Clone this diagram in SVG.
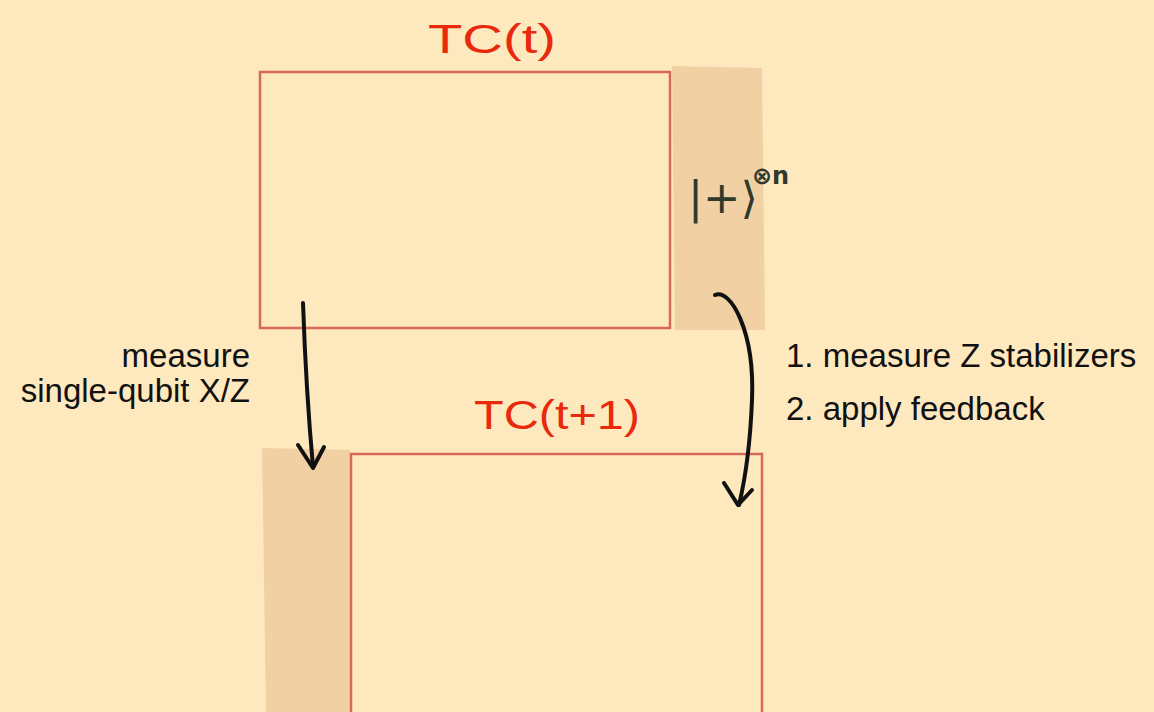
<svg xmlns="http://www.w3.org/2000/svg" width="1154" height="712" viewBox="0 0 1154 712">
<style>
.box{fill:none;stroke:#D6695A;stroke-width:2.5}
.strip{fill:#F1D1A4}
.title{font-family:"Liberation Sans",sans-serif;font-size:40px;fill:#E8290C}
.lbl{font-family:"Liberation Sans",sans-serif;font-size:33px;fill:#111}
.ket{font-family:"DejaVu Sans",sans-serif;fill:#2F3A2C}
.arr{fill:none;stroke:#111;stroke-width:4;stroke-linecap:round;stroke-linejoin:round}
</style>
<rect width="1154" height="712" fill="#FEE8BE"/>
<g id="top-strip"><path class="strip" d="M672,66 L762,68 L765,330 L675,330 Z"/></g>
<g id="bottom-strip"><path class="strip" d="M262,448 L350,450 L350,712 L266,712 Z"/></g>
<g id="tc-t">
<rect class="box" x="260" y="72" width="410" height="256"/>
<text class="title" x="492" y="53" text-anchor="middle" textLength="128" lengthAdjust="spacingAndGlyphs">TC(t)</text>
</g>
<g id="tc-t1">
<rect class="box" x="351" y="454" width="411" height="262"/>
<text class="title" x="557" y="429" text-anchor="middle" textLength="166" lengthAdjust="spacingAndGlyphs">TC(t+1)</text>
</g>
<g id="ket">
<text class="ket" x="688" y="213" font-size="44" textLength="70" lengthAdjust="spacingAndGlyphs">|+⟩</text>
<text class="ket" x="752" y="184" font-size="24" font-weight="bold">⊗n</text>
</g>
<g id="connectors">
<path class="arr" d="M303,303 Q306,390 313,467"/>
<path class="arr" d="M298,445 L313,468 L324,447"/>
<path class="arr" d="M715,295 C730,288 755,330 752,400 C750,450 745,480 739,505"/>
<path class="arr" d="M724,483 L738,505 L752,490"/>
</g>
<g id="labels">
<text class="lbl" x="250" y="367" text-anchor="end">measure</text>
<text class="lbl" x="250" y="402" text-anchor="end">single-qubit X/Z</text>
<text class="lbl" x="786" y="367">1. measure Z stabilizers</text>
<text class="lbl" x="786" y="420">2. apply feedback</text>
</g>
</svg>
